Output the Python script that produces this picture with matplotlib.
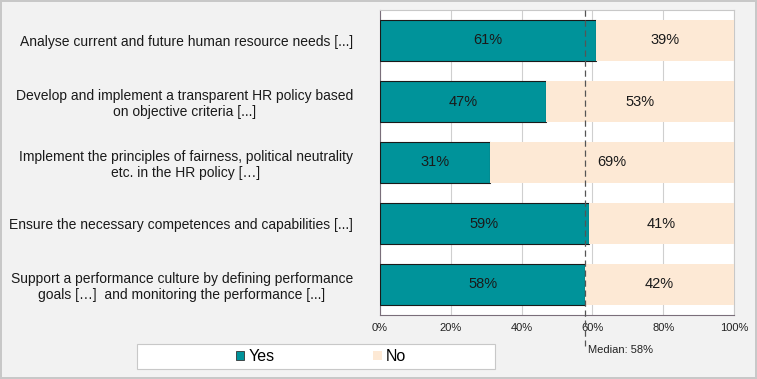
import matplotlib
matplotlib.use("Agg")
import matplotlib.pyplot as plt
from matplotlib.patches import Rectangle, Patch

plt.rcParams['font.family'] = ['Liberation Sans', 'DejaVu Sans']

categories = [
    "Analyse current and future human resource needs [...]",
    "Develop and implement a transparent HR policy based\non objective criteria [...]",
    "Implement the principles of fairness, political neutrality\netc. in the HR policy [\u2026]",
    "Ensure the necessary competences and capabilities [...]",
    "Support a performance culture by defining performance\ngoals [\u2026]  and monitoring the performance [...]",
]
yes_vals = [61, 47, 31, 59, 58]
no_vals = [39, 53, 69, 41, 42]
median_val = 58
xticks = [0, 20, 40, 60, 80, 100]

teal = "#00939a"
peach = "#fde9d5"
bg = "#f2f2f2"

fig = plt.figure(figsize=(7.57, 3.79), dpi=100, facecolor=bg)
fig.patch.set_edgecolor("#c8c8c8")
fig.patch.set_linewidth(1.5)

ax = fig.add_axes([380/757, 1-315/379, 354/757, 305/379])
ax.set_facecolor("white")

y = list(range(len(categories)))
ax.barh(y, yes_vals, height=0.67, color=teal, edgecolor="#1a1a1a", linewidth=0.8, zorder=3)
ax.barh(y, no_vals, left=yes_vals, height=0.67, color=peach, edgecolor="none", zorder=3)

for i in range(len(categories)):
    ax.text(yes_vals[i]/2, i, f"{yes_vals[i]}%", ha="center", va="center", fontsize=10.5, color="#1a1a1a", zorder=4)
    ax.text(yes_vals[i] + no_vals[i]/2, i, f"{no_vals[i]}%", ha="center", va="center", fontsize=10.5, color="#1a1a1a", zorder=4)

ax.set_xlim(0, 100)
ax.set_ylim(len(categories)-0.5, -0.5)
ax.set_xticks(xticks)
ax.set_xticklabels([f"{t}%" for t in xticks], fontsize=8, color="#222222")
ax.tick_params(axis="x", length=0, pad=6)
ax.set_yticks(y)
ax.set_yticklabels(categories, fontsize=10, multialignment="center", color="#1a1a1a")
ax.tick_params(axis="y", length=0, pad=19.5)
ax.grid(axis="x", color="#cfcfcf", linewidth=0.8, zorder=0)

for s in ["top", "right"]:
    ax.spines[s].set_color("#c8c8c8")
for s in ["left", "bottom"]:
    ax.spines[s].set_color("#7a6e7a")

# median line
ax.plot([median_val, median_val], [1.0, -0.1], transform=ax.get_xaxis_transform(),
        color="#555555", linestyle=(0, (5, 3)), linewidth=0.9, clip_on=False, zorder=5)
ax.text(median_val + 0.7, -0.115, f"Median: {median_val}%", transform=ax.get_xaxis_transform(),
        ha="left", va="center", fontsize=8, color="#222222")

# legend frame
fig.add_artist(Rectangle((137/757, 1-369/379), 358/757, 25/379, transform=fig.transFigure,
                         facecolor="white", edgecolor="#c8c8c8", linewidth=0.8))
handles = [Patch(facecolor=teal, edgecolor="#333333", linewidth=0.6, label="Yes"),
           Patch(facecolor=peach, edgecolor="none", label="No")]
fig.legend(handles=handles, loc="center", bbox_to_anchor=(321/757, 1-356.5/379), ncol=2,
           frameon=False, fontsize=11.5, handlelength=0.55, handleheight=0.55,
           handletextpad=0.25, columnspacing=6.2)

fig.savefig("out.png", dpi=100, facecolor=bg)
